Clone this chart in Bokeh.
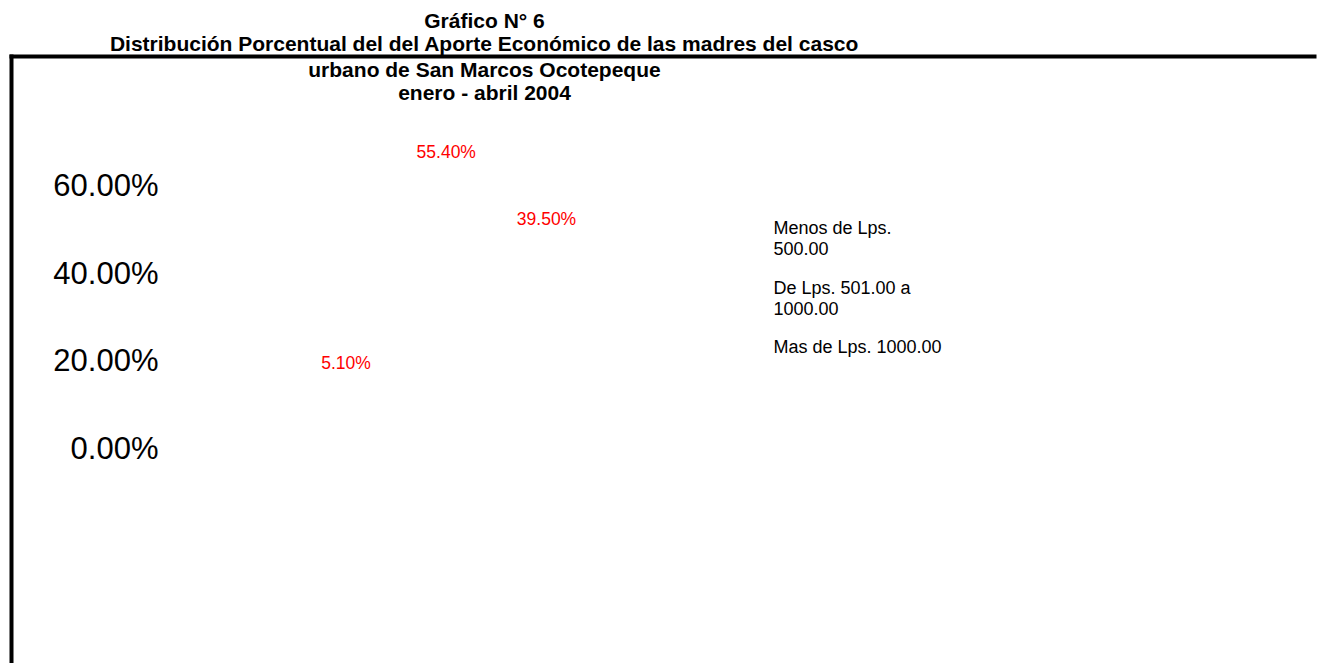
from bokeh.plotting import figure
from bokeh.models import Range1d, ColumnDataSource
from bokeh.core.properties import value
from bokeh.embed import file_html
from bokeh.resources import INLINE

# ---- data ----
title_lines = [
    "Gráfico N° 6",
    "Distribución Porcentual del del Aporte Económico de las madres del casco",
    "urbano de San Marcos Ocotepeque",
    "enero - abril 2004",
]
categories = ["Menos de Lps. 500.00", "De Lps. 501.00 a 1000.00", "Mas de Lps. 1000.00"]
legend_labels = ["Menos de Lps.\n500.00", "De Lps. 501.00 a\n1000.00", "Mas de Lps. 1000.00"]
values_pct = [55.4, 39.5, 5.1]
# order in which the (3D, depth-shifted) columns appear from left to right
draw_order = ["Mas de Lps. 1000.00", "Menos de Lps. 500.00", "De Lps. 501.00 a 1000.00"]
y_ticks = [0.0, 0.2, 0.4, 0.6]
y_tick_labels = ["0.00%", "20.00%", "40.00%", "60.00%"]

W, H = 1323, 663
FONT = "Liberation Sans"

# main ranges: x in column-slot units, y in fraction units (value axis)
px_per_slot = 100.25
slot0 = 345.5
y_zero = 447.5
px_per_unit = 436.7
p = figure(
    width=W, height=H,
    x_range=Range1d(-slot0 / px_per_slot, (W - slot0) / px_per_slot),
    y_range=Range1d(-(H - y_zero) / px_per_unit, y_zero / px_per_unit),
    x_axis_location=None, y_axis_location=None,
    toolbar_location=None, output_backend="svg", min_border=0,
)
p.outline_line_color = None
p.grid.visible = False
p.xgrid.visible = False
p.ygrid.visible = False
p.background_fill_color = "white"
p.border_fill_color = "white"

# pixel-layout ranges for titles/legend/frame
p.extra_x_ranges = {"px": Range1d(0, W)}
p.extra_y_ranges = {"px": Range1d(H, 0),
                    # label placement scale of the 3D column tops (percent)
                    "lab": Range1d(-66.72, 91.59)}

# frame rules of the chart area
p.quad(left=[9], right=[1316], top=[54], bottom=[58], x_range_name="px", y_range_name="px",
       fill_color="black", line_color=None)
p.quad(left=[9], right=[13], top=[54], bottom=[H], x_range_name="px", y_range_name="px",
       fill_color="black", line_color=None)

# title
title_src = ColumnDataSource(dict(x=[484] * 4, y=[20, 43, 68.5, 91.5], t=title_lines))
p.text(x="x", y="y", text="t", source=title_src, x_range_name="px", y_range_name="px",
       text_font=value(FONT), text_font_style="bold", text_font_size="21px",
       text_align="center", text_baseline="middle", text_color="black")

# value axis tick labels
tick_src = ColumnDataSource(dict(x=[158] * len(y_ticks), y=y_ticks, t=y_tick_labels))
p.text(x="x", y="y", text="t", source=tick_src, x_range_name="px",
       text_font=value(FONT), text_font_size="31px", text_align="right",
       text_baseline="middle", text_color="black")

# data labels (bars themselves are not rendered in the original)
xs = [draw_order.index(c) for c in categories]
lab_src = ColumnDataSource(dict(x=xs, y=values_pct, t=[f"{v:.2f}%" for v in values_pct]))
p.text(x="x", y="y", text="t", source=lab_src, y_range_name="lab",
       text_font=value(FONT), text_font_size="17.5px", text_align="center",
       text_baseline="middle", text_color="red")

# legend text (no swatches visible in the original)
leg_src = ColumnDataSource(dict(x=[773] * 3, y=[217.5 + 59.5 * i for i in range(3)], t=legend_labels))
p.text(x="x", y="y", text="t", source=leg_src, x_range_name="px", y_range_name="px",
       text_font=value(FONT), text_font_size="18px", text_align="left",
       text_baseline="top", text_line_height=1.055, text_color="black")

open("out.html", "w").write(file_html(p, INLINE))
